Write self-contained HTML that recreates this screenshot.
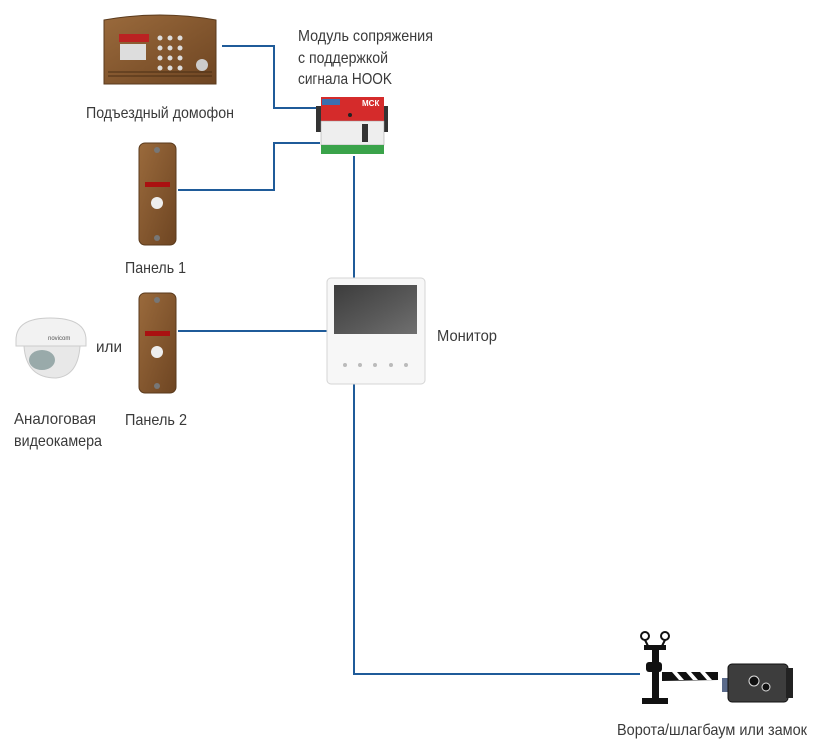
<!DOCTYPE html>
<html><head><meta charset="utf-8"><style>
html,body{margin:0;padding:0;background:#fff;width:820px;height:756px;overflow:hidden}
svg{display:block}
text{font-family:"Liberation Sans","DejaVu Sans Condensed",sans-serif;font-size:16px;fill:#3a3a3a}
</style></head><body>
<svg width="820" height="756" viewBox="0 0 820 756" xmlns="http://www.w3.org/2000/svg">
<defs>
<linearGradient id="br" x1="0" y1="0" x2="1" y2="1"><stop offset="0" stop-color="#9a6a3c"/><stop offset="1" stop-color="#6e4522"/></linearGradient>
<linearGradient id="scr" x1="0" y1="0" x2="1" y2="1"><stop offset="0" stop-color="#3c3c3c"/><stop offset="0.6" stop-color="#5a5a5a"/><stop offset="1" stop-color="#707070"/></linearGradient>
</defs>
<g stroke="#1f5b99" stroke-width="2" fill="none">
<polyline points="222,46 274,46 274,108 320,108"/>
<polyline points="178,190 274,190 274,143 320,143"/>
<line x1="354" y1="156" x2="354" y2="278"/>
<line x1="178" y1="331" x2="327" y2="331"/>
<polyline points="354,384 354,674 640,674"/>
</g>
<path d="M104,20 Q160,10 216,20 L216,84 L104,84 Z" fill="url(#br)" stroke="#5a3a1c"/>
<rect x="119" y="34" width="30" height="8" fill="#b22"/>
<rect x="120" y="44" width="26" height="16" fill="#ddd"/>
<g fill="#ddd"><circle cx="160" cy="38" r="2.5"/><circle cx="170" cy="38" r="2.5"/><circle cx="180" cy="38" r="2.5"/><circle cx="160" cy="48" r="2.5"/><circle cx="170" cy="48" r="2.5"/><circle cx="180" cy="48" r="2.5"/><circle cx="160" cy="58" r="2.5"/><circle cx="170" cy="58" r="2.5"/><circle cx="180" cy="58" r="2.5"/><circle cx="160" cy="68" r="2.5"/><circle cx="170" cy="68" r="2.5"/><circle cx="180" cy="68" r="2.5"/></g>
<circle cx="202" cy="65" r="6" fill="#ccc"/>
<g stroke="#4a2e14" stroke-width="1"><line x1="108" y1="72" x2="212" y2="72"/><line x1="108" y1="76" x2="212" y2="76"/></g>
<rect x="316" y="106" width="6" height="26" fill="#333"/><rect x="382" y="106" width="6" height="26" fill="#333"/>
<rect x="321" y="97" width="63" height="24" fill="#d52b2b"/>
<rect x="322" y="99" width="18" height="6" fill="#3a6fb0"/>
<text x="362" y="106" style="font-size:8px;fill:#fff;font-weight:bold">МСК</text>
<circle cx="350" cy="115" r="2" fill="#222"/>
<rect x="321" y="121" width="63" height="24" fill="#eee" stroke="#999" stroke-width="0.5"/>
<rect x="362" y="124" width="6" height="18" fill="#333"/>
<rect x="321" y="145" width="63" height="9" fill="#3aa34a"/>
<rect x="139" y="143" width="37" height="102" rx="6" fill="url(#br)" stroke="#5a3a1c"/>
<rect x="145" y="182" width="25" height="5" fill="#a11"/>
<circle cx="157" cy="203" r="6" fill="#eee"/>
<circle cx="157" cy="150" r="3" fill="#777"/><circle cx="157" cy="238" r="3" fill="#777"/>
<rect x="139" y="293" width="37" height="100" rx="6" fill="url(#br)" stroke="#5a3a1c"/>
<rect x="145" y="331" width="25" height="5" fill="#a11"/>
<circle cx="157" cy="352" r="6" fill="#eee"/>
<circle cx="157" cy="300" r="3" fill="#777"/><circle cx="157" cy="386" r="3" fill="#777"/>
<path d="M16,340 Q16,318 50,318 Q86,318 86,340 L86,346 L16,346 Z" fill="#f2f2f2" stroke="#ccc"/>
<path d="M24,346 Q26,378 56,378 Q78,376 80,346 Z" fill="#e8e8e8" stroke="#ccc"/>
<ellipse cx="42" cy="360" rx="13" ry="10" fill="#9aa"/>
<text x="48" y="340" style="font-size:6px;fill:#555">novicom</text>
<rect x="327" y="278" width="98" height="106" rx="4" fill="#f7f7f7" stroke="#d5d5d5"/>
<rect x="334" y="285" width="83" height="49" fill="url(#scr)"/>
<g fill="#bbb"><circle cx="345" cy="365" r="2"/><circle cx="360" cy="365" r="2"/><circle cx="375" cy="365" r="2"/><circle cx="391" cy="365" r="2"/><circle cx="406" cy="365" r="2"/></g>
<g fill="#111">
<rect x="652" y="650" width="7" height="48"/>
<rect x="642" y="698" width="26" height="6"/>
<rect x="646" y="662" width="16" height="10" rx="3"/>
<rect x="644" y="645" width="22" height="5"/>
<circle cx="645" cy="636" r="4" fill="none" stroke="#111" stroke-width="2"/>
<circle cx="665" cy="636" r="4" fill="none" stroke="#111" stroke-width="2"/>
<line x1="645" y1="640" x2="648" y2="646" stroke="#111" stroke-width="2"/>
<line x1="665" y1="640" x2="662" y2="646" stroke="#111" stroke-width="2"/>
<polygon points="662,672 718,672 718,680 662,681"/>
</g>
<g fill="#fff"><polygon points="672,672 677,672 684,680 679,680"/><polygon points="686,672 691,672 698,680 693,680"/><polygon points="700,672 705,672 712,680 707,680"/></g>
<rect x="722" y="678" width="8" height="14" fill="#5a6a8a"/>
<rect x="728" y="664" width="60" height="38" rx="4" fill="#3d3d3d" stroke="#111"/>
<rect x="786" y="668" width="7" height="30" fill="#222"/>
<circle cx="754" cy="681" r="5" fill="#111" stroke="#ddd"/>
<circle cx="766" cy="687" r="4" fill="#111" stroke="#ddd"/>
<g lengthAdjust="spacingAndGlyphs">
<text x="86" y="118" textLength="148" lengthAdjust="spacingAndGlyphs">Подъездный домофон</text>
<text x="298" y="41" textLength="135" lengthAdjust="spacingAndGlyphs">Модуль сопряжения</text>
<text x="298" y="63" textLength="90" lengthAdjust="spacingAndGlyphs">с поддержкой</text>
<text x="298" y="84" textLength="94" lengthAdjust="spacingAndGlyphs">сигнала HOOK</text>
<text x="125" y="273" textLength="61" lengthAdjust="spacingAndGlyphs">Панель 1</text>
<text x="96" y="352" textLength="26" lengthAdjust="spacingAndGlyphs">или</text>
<text x="437" y="341" textLength="60" lengthAdjust="spacingAndGlyphs">Монитор</text>
<text x="14" y="424" textLength="82" lengthAdjust="spacingAndGlyphs">Аналоговая</text>
<text x="14" y="446" textLength="88" lengthAdjust="spacingAndGlyphs">видеокамера</text>
<text x="125" y="425" textLength="62" lengthAdjust="spacingAndGlyphs">Панель 2</text>
<text x="617" y="735" textLength="190" lengthAdjust="spacingAndGlyphs">Ворота/шлагбаум или замок</text>
</g>
</svg>
</body></html>
